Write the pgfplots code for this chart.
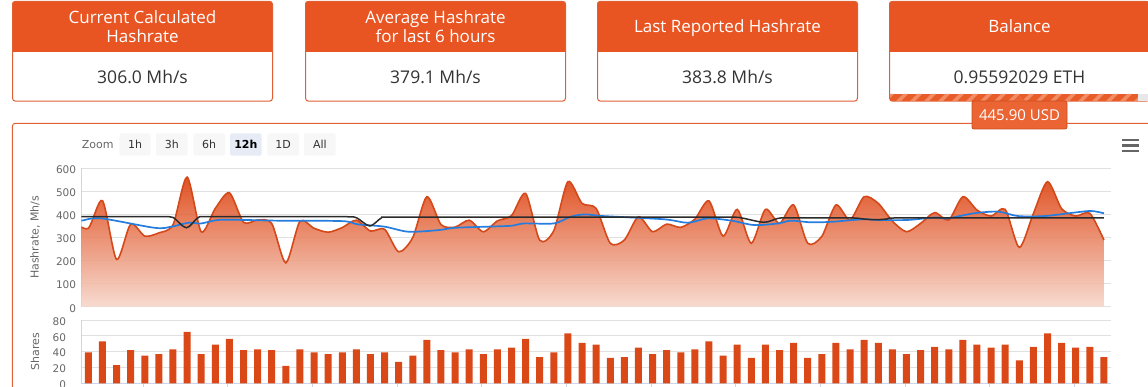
\documentclass[border=0pt]{standalone}
\usepackage{fontspec}
\usepackage{pgfplots}
\usepackage{pgfplotstable}
\pgfplotsset{compat=1.18}
\setmainfont{DejaVu Sans}
\newfontfamily\cardfont{Open Sans}
\definecolor{hdr}{RGB}{232,85,35}
\definecolor{cardborder}{RGB}{224,96,52}
\definecolor{valtext}{RGB}{51,51,51}
\definecolor{bartc}{RGB}{217,72,22}
\definecolor{areaLine}{RGB}{212,72,25}
\definecolor{areaTop}{RGB}{219,58,5}
\definecolor{areaBot}{RGB}{247,214,202}
\definecolor{avgblue}{RGB}{37,125,222}
\definecolor{repblack}{RGB}{43,43,43}
\definecolor{gridc}{RGB}{224,224,224}
\definecolor{axisc}{RGB}{204,214,235}
\definecolor{tickc}{RGB}{102,102,102}
\definecolor{btnbg}{RGB}{247,247,247}
\definecolor{btnsel}{RGB}{230,235,245}
\definecolor{tipfill}{RGB}{234,100,52}
\definecolor{tipborder}{RGB}{205,75,30}
\definecolor{stripeA}{RGB}{232,92,42}
\definecolor{stripeB}{RGB}{241,140,100}
\newcommand\hdrfont{\cardfont\fontsize{17}{20}\selectfont}
\newcommand\valfont{\cardfont\fontsize{17.5}{20}\selectfont}
\newcommand\smallfont{\fontsize{10.5}{12}\selectfont}

\pgfplotstableread{
t v
-10 365
0 340
10 460
20 205
30 358
40 306
50 320
60 355
70 562
80 325
90 426
100 494
110 366
120 376
130 361
140 190
150 370
160 340
170 323
180 343
190 375
200 328
210 336
220 238
230 300
240 477
250 356
260 345
270 375
280 325
290 372
300 395
310 491
320 288
330 330
340 542
350 448
360 426
370 275
380 289
390 390
400 325
410 358
420 344
430 380
440 459
450 306
460 422
470 275
480 422
490 361
500 441
510 275
520 305
530 441
540 376
550 477
560 448
570 371
580 325
590 361
600 408
610 376
620 477
630 419
640 393
650 422
660 257
670 404
680 542
690 425
700 393
710 405
720 289
}\hashdata

\pgfplotstableread{
t v
-10 372
-5 373
9 383
47 342
59 347
71 364
80 361
92 376
111 376
134 373
180 371
191 357
210 347
227 325
248 332
260 342
283 347
300 351
309 361
330 361
342 390
352 400
365 393
408 379
425 364
439 383
456 373
472 354
489 361
498 373
512 366
527 368
549 379
560 376
581 376
600 387
609 383
628 405
645 412
659 393
678 393
699 408
711 415
720 405
}\avgdata

\pgfplotstableread{
t v
-10 390
30 390
52 390
60 387
69.5 342
78 387
86 390
150 390
183 390
190 386
199.6 350
208 386
215 388
300 388
400 388
455 388
463 385
479 366
489 383
497 385
540 385
550 380
558 377
566 380
575 385
650 385
720 385
}\repdata

\pgfplotstableread{
t s
0 39
10 53
20 23
30 42
40 35
50 37
60 43
70 65
80 37
90 49
100 56
110 42
120 43
130 42
140 22
150 43
160 39
170 37
180 39
190 43
200 37
210 39
220 27
230 35
240 55
250 42
260 39
270 43
280 37
290 43
300 45
310 56
320 33
330 39
340 63
350 51
360 49
370 32
380 33
390 45
400 37
410 42
420 39
430 43
440 53
450 35
460 49
470 32
480 49
490 42
500 51
510 32
520 37
530 51
540 43
550 55
560 51
570 43
580 37
590 42
600 46
610 43
620 55
630 49
640 45
650 49
660 29
670 46
680 63
690 51
700 45
710 46
720 33
}\sharedata

\newcommand\cardbox[2]{%
  \begin{scope}
    \clip[rounded corners=3pt] (#1,285.3) rectangle (#2,386);
    \fill[white] (#1,285.3) rectangle (#2,386);
    \fill[hdr] (#1,335.3) rectangle (#2,386);
  \end{scope}
  \draw[cardborder, line width=1pt, rounded corners=3pt] (#1+0.5,285.8) rectangle (#2-0.5,385.5);
}

\begin{document}
\begin{tikzpicture}
\path[use as bounding box] (0pt,0pt) rectangle (1148pt,387pt);
\clip (0pt,0pt) rectangle (1148pt,387pt);
\begin{scope}[x=1pt,y=1pt]
  % cards
  \cardbox{12}{273}
  \cardbox{305}{566}
  \cardbox{597}{858}
  \cardbox{889}{1150}
  \node[anchor=base, text=white, font=\hdrfont, inner sep=0pt] at (142.5,363) {Current Calculated};
  \node[anchor=base, text=white, font=\hdrfont, inner sep=0pt] at (142.5,344) {Hashrate};
  \node[anchor=base, text=valtext, font=\valfont, inner sep=0pt] at (142.5,303) {306.0 Mh/s};
  \node[anchor=base, text=white, font=\hdrfont, inner sep=0pt] at (435.5,363) {Average Hashrate};
  \node[anchor=base, text=white, font=\hdrfont, inner sep=0pt] at (435.5,344) {for last 6 hours};
  \node[anchor=base, text=valtext, font=\valfont, inner sep=0pt] at (435.5,303) {379.1 Mh/s};
  \node[anchor=base, text=white, font=\hdrfont, inner sep=0pt] at (727.5,354) {Last Reported Hashrate};
  \node[anchor=base, text=valtext, font=\valfont, inner sep=0pt] at (727.5,303) {383.8 Mh/s};
  \node[anchor=base, text=white, font=\hdrfont, inner sep=0pt] at (1019.5,354) {Balance};
  \node[anchor=base, text=valtext, font=\valfont, inner sep=0pt] at (1019.5,303) {0.95592029 ETH};
  % progress bar in balance card
  \begin{scope}
    \clip (890,286) rectangle (1138,293);
    \fill[stripeA] (890,286) rectangle (1138,293);
    \foreach \s in {0,...,19} {
      \fill[stripeB] ({882+\s*14},286) -- ++(5,0) -- ++(7,7) -- ++(-5,0) -- cycle;
    }
  \end{scope}
  \fill[black!9] (1138,286) rectangle (1148,293);
  % chart panel border
  \draw[cardborder, line width=1pt, rounded corners=3pt] (12.3,-2) -- (12.3,263.7) -- (1152,263.7);
  % tooltip
  \draw[tipborder, fill=tipfill, line width=0.8pt, rounded corners=2pt] (972,258) rectangle (1067,286);
  \fill[tipfill] (1014,285.6) -- (1020,291.5) -- (1026,285.6) -- cycle;
  \node[text=white, font=\cardfont\fontsize{15}{18}\selectfont, inner sep=0pt] at (1019.5,272) {445.90 USD};
  % zoom buttons
  \node[anchor=west, text=tickc, font=\fontsize{11}{13}\selectfont, inner sep=0pt] at (81.7,242.3) {Zoom};
  \foreach \a/\b/\l in {119.3/150.7/1h, 156/187.7/3h, 193.3/225/6h, 267.3/299/1D, 304/335.7/All} {
    \fill[btnbg, rounded corners=1.5pt] (\a,231.3) rectangle (\b,253.7);
    \node[text=valtext, font=\fontsize{11}{13}\selectfont, inner sep=0pt] at ({(\a+\b)/2},242.5) {\l};
  }
  \fill[btnsel, rounded corners=1.5pt] (230,231.3) rectangle (261.7,253.7);
  \node[text=black, font=\fontsize{11}{13}\selectfont\bfseries, inner sep=0pt] at (245.85,242.5) {12h};
  % menu icon
  \foreach \yy in {247,241.5,236} {
    \draw[tickc, line width=2.6pt] (1122,\yy) -- (1139,\yy);
  }
\end{scope}

% hashrate chart
\begin{axis}[
  at={(81.3pt,80.3pt)}, anchor=south west,
  scale only axis, width=1029.7pt, height=138.4pt,
  xmin=-5, xmax=725, ymin=0, ymax=600,
  ytick={0,100,...,600}, xtick=\empty,
  axis x line=none, axis y line*=left,
  axis line style={draw=axisc, line width=1pt, -},
  ymajorgrids, grid style={gridc, line width=1pt},
  major tick length=0pt,
  yticklabel style={font=\smallfont, text=tickc, inner sep=0pt, xshift=-5pt, yshift=-1.5pt},
  /pgf/number format/assume math mode=true,
  ylabel={Hashrate, Mh/s},
  ylabel style={at={(axis description cs:-0.045,0.5)}, anchor=center, font=\fontsize{11}{13}\selectfont, text=tickc},
]
\addplot[draw=none, top color=areaTop, bottom color=areaBot, fill opacity=0.88, smooth, tension=0.45] table[x=t,y=v] {\hashdata} \closedcycle;
\addplot[areaLine, line width=1.6pt, smooth, tension=0.45] table[x=t,y=v] {\hashdata};
\addplot[avgblue, line width=1.7pt, smooth] table[x=t,y=v] {\avgdata};
\addplot[repblack, line width=1.5pt, smooth] table[x=t,y=v] {\repdata};
\end{axis}

% shares chart
\begin{axis}[
  at={(81.3pt,3.7pt)}, anchor=south west,
  scale only axis, width=1029.7pt, height=63.3pt,
  xmin=-5, xmax=725, ymin=0, ymax=80,
  ytick={0,20,...,80},
  xtick={39,99,...,699}, xticklabels={},
  axis x line*=bottom, axis y line*=left,
  axis line style={draw=axisc, line width=1pt, -},
  ymajorgrids, grid style={gridc, line width=1pt},
  ytick style={draw=none},
  xtick style={draw=axisc, line width=1pt},
  tick align=outside, major tick length=10pt,
  yticklabel style={font=\smallfont, text=tickc, inner sep=0pt, xshift=-5pt, yshift=-1.5pt},
  /pgf/number format/assume math mode=true,
  ylabel={Shares},
  ylabel style={at={(axis description cs:-0.045,0.5)}, anchor=center, font=\fontsize{11}{13}\selectfont, text=tickc},
]
\addplot[ybar, bar width=7pt, fill=bartc, draw=none] table[x=t,y=s] {\sharedata};
\end{axis}
\end{tikzpicture}
\end{document}
